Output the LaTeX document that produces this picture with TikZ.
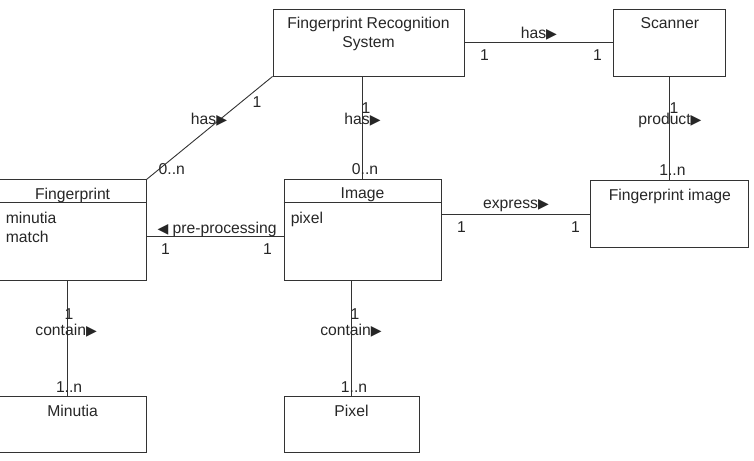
\documentclass[tikz,border=0pt]{standalone}
\usepackage{fontspec}
\setmainfont{Liberation Sans}
\newfontfamily\arrowfont{DejaVu Sans}
\usetikzlibrary{positioning}

\newcommand{\relright}{{\arrowfont\fontsize{14}{14}\selectfont ▶}}
\newcommand{\relleft}{{\arrowfont\fontsize{14}{14}\selectfont ◀}}

\begin{document}
\begin{tikzpicture}[
  x=1pt, y=-1pt,
  font=\fontsize{15.7}{19}\selectfont,
  every node/.append style={text=black!85},
  block/.style = {
    draw=black!80,
    shape=rectangle,
    line width=0.9pt,
    inner sep=0pt
  },
  title/.style = {
    align=center,
    inner xsep=2pt,
    inner ysep=8.5pt
  },
  attr/.style = {
    align=left,
    inner xsep=7pt,
    inner ysep=9pt
  },
  assoc/.style = {draw=black!80, line width=0.9pt},
  rel/.style = {anchor=base, inner sep=0pt},
  mult/.style = {inner sep=0pt},
]
  \useasboundingbox (0,0) rectangle (754,460);

  % classes
  \node (frs)[
    block,
    minimum width=191pt,
    minimum height=67pt
  ] at (368.5,42.5) {};
  \node (scanner)[
    right=149pt of frs,
    block,
    minimum width=112pt,
    minimum height=67pt
  ] {};
  \node (img)[
    below=103pt of frs,
    block,
    xshift=-6pt,
    minimum width=157pt,
    minimum height=101pt
  ] {};
  \node (fp)[
    left=137pt of img,
    block,
    minimum width=147pt,
    minimum height=101pt
  ] {};
  \node (fpimg)[
    below=104pt of scanner,
    block,
    minimum width=158pt,
    minimum height=67pt
  ] {};
  \node (minutia)[
    below=115pt of fp,
    block,
    minimum width=147pt,
    minimum height=56pt
  ] {};
  \node (pixel)[
    below=115pt of img,
    block,
    xshift=-11pt,
    minimum width=135pt,
    minimum height=56pt
  ] {};

  \node (frs-name)[title, below=0pt of frs.north] {Fingerprint Recognition\\System};
  \node (scanner-name)[title, below=0pt of scanner.north] {Scanner};
  \node (img-name)[title, below=0pt of img.north] {Image};
  \node (fp-name)[title, below=0pt of fp.north] {Fingerprint};
  \node (fpimg-name)[title, below=0pt of fpimg.north] {Fingerprint image};
  \node (minutia-name)[title, below=0pt of minutia.north] {Minutia};
  \node (pixel-name)[title, below=0pt of pixel.north] {Pixel};

  \draw[assoc] ([yshift=-23pt]fp.north west) -- ([yshift=-23pt]fp.north east);
  \draw[assoc] ([yshift=-23pt]img.north west) -- ([yshift=-23pt]img.north east);
  \node (fp-attr)[attr, below right=23pt and 0pt of fp.north west] {minutia\\match};
  \node (img-attr)[attr, below right=23pt and 0pt of img.north west] {pixel};

  % associations
  \draw[assoc] (frs) -- (scanner)
    node (has1)[rel, midway, yshift=4pt] {has\relright}
    node (has1a)[mult, pos=0.134, anchor=north, yshift=-6.5pt] {1}
    node (has1b)[mult, pos=0.893, anchor=north, yshift=-6.5pt] {1};
  \draw[assoc] (frs.south west) -- (fp.north east)
    node (has2a)[mult, pos=0.25, xshift=16pt] {1}
    node (has2)[mult, pos=0.417, xshift=-11pt] {has\relright}
    node (has2b)[mult, pos=0.903, xshift=13pt] {0..n};
  \draw[assoc] (img.north |- frs.south) -- (img.north)
    node (has3a)[mult, pos=0.31, xshift=3.5pt] {1}
    node (has3)[mult, pos=0.417] {has\relright}
    node (has3b)[mult, pos=0.9, xshift=2.5pt] {0..n};
  \draw[assoc] (scanner) -- (fpimg)
    node (prod-a)[mult, pos=0.3, xshift=4pt] {1}
    node (prod)[mult, pos=0.425] {product\relright}
    node (prod-b)[mult, pos=0.905, xshift=2.5pt] {1..n};
  \draw[assoc] ([yshift=-6.5pt]fp.east) -- ([yshift=-6.5pt]img.west)
    node (pre)[rel, midway, xshift=2pt, yshift=3.3pt] {\relleft\ pre-processing}
    node (pre-a)[mult, pos=0.139, anchor=north, yshift=-6.5pt] {1}
    node (pre-b)[mult, pos=0.883, anchor=north, yshift=-6.5pt] {1};
  \draw[assoc] (img.east |- fpimg.west) -- (fpimg.west)
    node (expr)[rel, midway, yshift=5.5pt] {express\relright}
    node (expr-a)[mult, pos=0.134, anchor=north, yshift=-6.5pt] {1}
    node (expr-b)[mult, pos=0.899, anchor=north, yshift=-6.5pt] {1};
  \draw[assoc] ([xshift=-5pt]fp.south) -- ([xshift=-5pt]minutia.north)
    node (cont1a)[mult, pos=0.287, xshift=1.5pt] {1}
    node (cont1)[mult, pos=0.426, xshift=-1.5pt] {contain\relright}
    node (cont1b)[mult, pos=0.92, xshift=1.5pt] {1..n};
  \draw[assoc] (pixel.north |- img.south) -- (pixel.north)
    node (cont2a)[mult, pos=0.287, xshift=3.5pt] {1}
    node (cont2)[mult, pos=0.426, xshift=-0.5pt] {contain\relright}
    node (cont2b)[mult, pos=0.92, xshift=2.5pt] {1..n};
\end{tikzpicture}
\end{document}
